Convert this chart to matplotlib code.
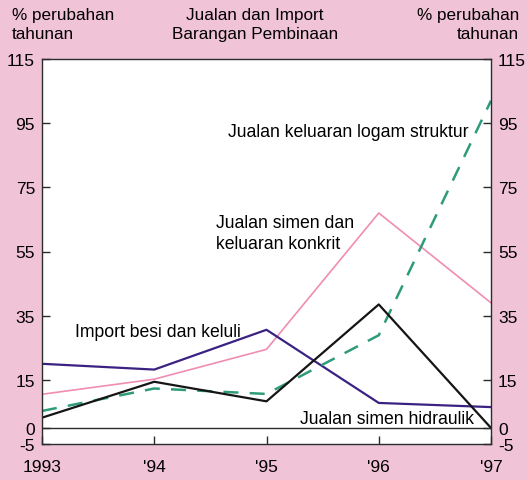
import matplotlib.pyplot as plt

plt.rcParams['font.family'] = ['Liberation Sans', 'DejaVu Sans']

years = [1993, 1994, 1995, 1996, 1997]
year_labels = ['1993', "'94", "'95", "'96", "'97"]
y_ticks = [-5, 0, 15, 35, 55, 75, 95, 115]

import_besi = [20, 18.2, 30.6, 7.8, 6.5]
simen_hidraulik = [3.2, 14.4, 8.3, 38.5, 0]
logam_struktur = [5.3, 12.3, 10.6, 28.9, 102]
simen_konkrit = [10.5, 15.2, 24.5, 67, 39]

bg = '#f1c3d6'
ink = '#2b2b2b'

fig = plt.figure(figsize=(5.28, 4.81), dpi=100, facecolor=bg)
ax = fig.add_axes([42 / 528, 36 / 481, 449 / 528, 385 / 481])
ax.set_facecolor('white')

ax.plot(years, simen_konkrit, color='#f08db3', lw=1.2)
ax.plot(years, import_besi, color='#3b2282', lw=1.6)
ax.plot(years, logam_struktur, color='#2e9b7b', lw=1.8, dashes=(6, 4.5))
ax.plot(years, simen_hidraulik, color='#151515', lw=1.6)

ax.axhline(0, color=ink, lw=1)

ax.set_xlim(1993, 1997)
ax.set_ylim(-5, 115)
ax.set_xticks(years)
ax.set_xticklabels(year_labels)
ax.set_yticks(y_ticks)
ax.set_yticklabels([str(v) for v in y_ticks])

ax.tick_params(axis='y', direction='in', length=6, width=1, color=ink,
               labelsize=12.5, pad=5, left=True, right=True, labelright=True)
ax.tick_params(axis='x', direction='in', length=6, width=1, color=ink,
               labelsize=12.5, pad=11)
for s in ax.spines.values():
    s.set_color(ink)
    s.set_linewidth(1)

fs = 12.7
ax.text(1994.66, 92.4, 'Jualan keluaran logam struktur', fontsize=fs, ha='left', va='center')
ax.text(1994.55, 60.7, 'Jualan simen dan\nkeluaran konkrit', fontsize=fs, ha='left', va='center',
        linespacing=1.3)
ax.text(1993.29, 30.2, 'Import besi dan keluli', fontsize=fs, ha='left', va='center')
ax.text(1995.30, 3.0, 'Jualan simen hidraulik', fontsize=fs, ha='left', va='center')

hs = 12.3
fig.text(12 / 528, 1 - 8 / 481, '% perubahan\ntahunan', fontsize=hs, ha='left', va='top',
         linespacing=1.35)
fig.text(255 / 528, 1 - 8 / 481, 'Jualan dan Import\nBarangan Pembinaan', fontsize=hs,
         ha='center', va='top', linespacing=1.35)
fig.text(519 / 528, 1 - 8 / 481, '% perubahan\ntahunan', fontsize=hs, ha='right', va='top',
         multialignment='right', linespacing=1.35)

fig.savefig('out.png', dpi=100, facecolor=bg)
